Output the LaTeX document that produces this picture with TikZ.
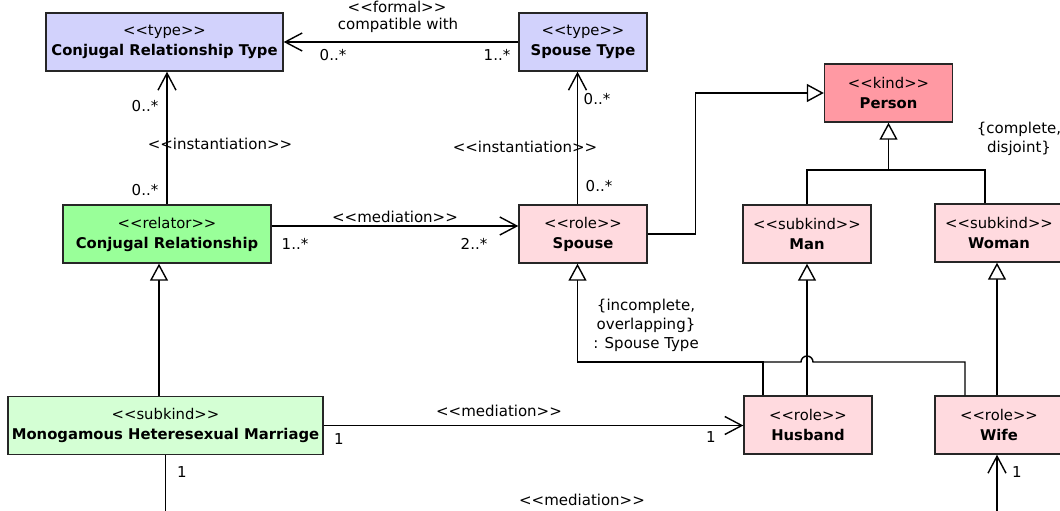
\documentclass[tikz,border=0pt]{standalone}
\usepackage{fontspec}
\setmainfont{DejaVu Sans}
\usetikzlibrary{arrows.meta}

\definecolor{typefill}{RGB}{210,210,252}
\definecolor{relfill}{RGB}{153,255,153}
\definecolor{subfill}{RGB}{212,255,212}
\definecolor{kindfill}{RGB}{255,153,163}
\definecolor{rolefill}{RGB}{255,218,223}

\newcommand{\stereo}[1]{<{}<#1>{}>}

\tikzset{
  box/.style={draw=black!85, line width=1.4pt, minimum width=128, minimum height=58,
    inner sep=0pt, align=center, font=\fontsize{14.8}{20}\selectfont},
  typebox/.style={box, fill=typefill},
  relbox/.style={box, fill=relfill},
  subbox/.style={box, fill=subfill},
  kindbox/.style={box, fill=kindfill},
  rolebox/.style={box, fill=rolefill},
  lbl/.style={inner sep=0pt, align=center, font=\fontsize{15}{19}\selectfont},
  assoc/.style={line width=1.4pt, -{Straight Barb[length=17pt,width=18pt]}},
  gen/.style={line width=1.4pt, -{Triangle[length=17pt,width=18pt,fill=white]}},
  plain/.style={line width=1.4pt}
}

\begin{document}
\begin{tikzpicture}[x=1pt,y=-1pt]
    \useasboundingbox (0,0) rectangle (1060,511);
    \clip (0,0) rectangle (1060,511);

    \node[typebox, minimum width=237] (crtype) at (164.5,42) {\stereo{type}\\\textbf{Conjugal Relationship Type}};
    \node[typebox] (sptype) at (583,42) {\stereo{type}\\\textbf{Spouse Type}};
    \node[kindbox] (person) at (888.5,93) {\stereo{kind}\\\textbf{Person}};
    \node[relbox, minimum width=208] (crel) at (167,234) {\stereo{relator}\\\textbf{Conjugal Relationship}};
    \node[rolebox] (spouse) at (583,234) {\stereo{role}\\\textbf{Spouse}};
    \node[rolebox] (man) at (807,234) {\stereo{subkind}\\\textbf{Man}};
    \node[rolebox] (woman) at (999,233) {\stereo{subkind}\\\textbf{Woman}};
    \node[subbox, minimum width=315] (marriage) at (165.5,425.5) {\stereo{subkind}\\\textbf{Monogamous Heteresexual Marriage}};
    \node[rolebox] (husband) at (808,425) {\stereo{role}\\\textbf{Husband}};
    \node[rolebox] (wife) at (999,425) {\stereo{role}\\\textbf{Wife}};

    \coordinate (pjoin) at (888.5,170);
    \coordinate (sjoin) at (577.5,362);

    \draw[assoc] (sptype) -- (crtype);
    \draw[assoc] (crel.north) -- (crel.north |- crtype.south);
    \draw[assoc] ([xshift=-5.5pt]spouse.north) -- ([xshift=-5.5pt]spouse.north |- sptype.south);
    \draw[assoc] ([yshift=8pt]crel.east) -- ([yshift=8pt]crel.east -| spouse.west);
    \draw[assoc] (marriage.east) -- (marriage.east -| husband.west);
    \draw[assoc] (marriage.south) -- ++(0,110) -| ([xshift=-2pt]wife.south);

    \draw[gen] (spouse.east) -- ++(48,0) |- (person.west);
    \draw[gen] (man.north) |- (pjoin) -- (person.south);
    \draw[plain] ([xshift=-14pt]woman.north) |- (pjoin);
    \draw[gen] ([xshift=-6.5pt]marriage.north) -- ([xshift=-6.5pt]marriage.north |- crel.south);
    \draw[gen] (husband.north -| man.south) -- (man.south);
    \draw[gen] ([xshift=-2pt]wife.north) -- ([xshift=-2pt]woman.south);
    \draw[gen] ([xshift=-45pt]husband.north) |- (sjoin) -- ([xshift=-5.5pt]spouse.south);
    \draw[plain] ([xshift=-34pt]wife.north) |- (813,362) arc[start angle=0, end angle=180, radius=6pt] -- (763,362);

    \node[lbl] (formal) at (397,7) {\stereo{formal}};
    \node[lbl] (compat) at (398,25) {compatible with};
    \node[lbl] (mcrt) at (333,55) {0..*};
    \node[lbl] (mspt) at (497,55) {1..*};
    \node[lbl] (inst1) at (220,144) {\stereo{instantiation}};
    \node[lbl] (mcrtype) at (145,106) {0..*};
    \node[lbl] (mcrel) at (145,190) {0..*};
    \node[lbl] (inst2) at (525,147) {\stereo{instantiation}};
    \node[lbl] (msptype) at (597,99) {0..*};
    \node[lbl] (mspouse) at (599,186) {0..*};
    \node[lbl] (med1) at (395,217) {\stereo{mediation}};
    \node[lbl] (mrel) at (295,244) {1..*};
    \node[lbl] (msp) at (474,244) {2..*};
    \node[lbl] (complete) at (1019,139) {\{complete,\\disjoint\}};
    \node[lbl] (incomplete) at (646,325) {\{incomplete,\\overlapping\}\\: Spouse Type};
    \node[lbl] (med2) at (499,411) {\stereo{mediation}};
    \node[lbl] (mmar1) at (339,439) {1};
    \node[lbl] (mhus) at (711,437) {1};
    \node[lbl] (mmar2) at (182,472) {1};
    \node[lbl] (med3) at (582,500) {\stereo{mediation}};
    \node[lbl] (mwife) at (1017,472) {1};
\end{tikzpicture}
\end{document}
